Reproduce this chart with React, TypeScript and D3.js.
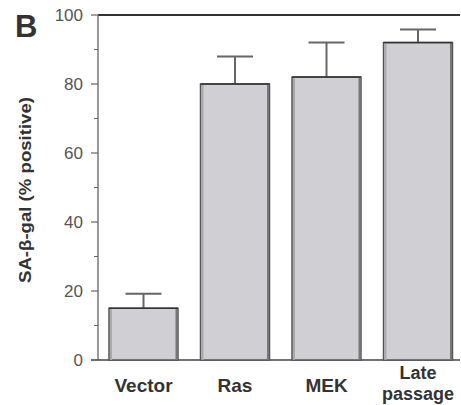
import React from "react";
import * as d3 from "d3";

const categories = ["Vector", "Ras", "MEK", "Late passage"];
const values = [15, 80, 82, 92];
const errors = [4.2, 8, 10, 3.8];
const yTicks = [0, 20, 40, 60, 80, 100];
const yMinorTicks = [10, 30, 50, 70, 90];

export default function App() {
  const W = 461, H = 405;
  const x0 = 98, yTop = 15, yBot = 360;
  const y = d3.scaleLinear().domain([0, 100]).range([yBot, yTop]);
  const x = d3.scaleBand().domain(categories).range([90.7, 470.8]).paddingInner(0.246).paddingOuter(0.2);
  const bw = x.bandwidth();
  return (
    <svg width={W} height={H} style={{ position: "absolute", left: 0, top: 0, background: "#fff" }}
      fontFamily="Liberation Sans, Arial, sans-serif">
      <text x={15} y={37} fontSize={31} fontWeight="bold" fill="#333">B</text>
      <line x1={x0} x2={460} y1={yTop} y2={yTop} stroke="#333" strokeWidth={2} />
      <line x1={x0} x2={x0} y1={yTop} y2={yBot} stroke="#777" strokeWidth={1.5} />
      <line x1={91} x2={460} y1={yBot} y2={yBot} stroke="#444" strokeWidth={1.5} />
      {yTicks.map(t => (
        <g key={t}>
          <line x1={91} x2={x0} y1={y(t)} y2={y(t)} stroke="#666" strokeWidth={1.2} />
          <text x={83} y={y(t) + 6} fontSize={17} textAnchor="end" fill="#555">{t}</text>
        </g>
      ))}
      {yMinorTicks.map(t => (
        <line key={t} x1={94} x2={x0} y1={y(t)} y2={y(t)} stroke="#666" strokeWidth={1} />
      ))}
      <text transform={`translate(31, 190) rotate(-90)`} fontSize={16} fontWeight="bold"
        textAnchor="middle" fill="#333" textLength={186} lengthAdjust="spacingAndGlyphs">SA-β-gal (% positive)</text>
      {categories.map((c, i) => {
        const left = x(c)!;
        const cx = left + bw / 2;
        const top = y(values[i]);
        const et = y(values[i] + errors[i]);
        return (
          <g key={c}>
            <line x1={cx} x2={cx} y1={top} y2={et} stroke="#666" strokeWidth={2} />
            <line x1={cx - 18} x2={cx + 18} y1={et} y2={et} stroke="#666" strokeWidth={2} />
            <rect x={left} y={top} width={bw} height={yBot - top} fill="#cfcfd4" stroke="#555" strokeWidth={1.5} />
            <line x1={left + 2} x2={left + 2} y1={top + 1} y2={yBot} stroke="#aaa" strokeWidth={2} />
            <line x1={left + bw - 1.5} x2={left + bw - 1.5} y1={top} y2={yBot} stroke="#777" strokeWidth={2} />
            <line x1={left} x2={left + bw} y1={top} y2={top} stroke="#333" strokeWidth={1.5} />
          </g>
        );
      })}
      {categories.map((c) => {
        const cx = x(c)! + bw / 2;
        if (c === "Late passage") {
          return (
            <g key={c} fontSize={18} fontWeight="bold" textAnchor="middle" fill="#333">
              <text x={cx} y={379}>Late</text>
              <text x={cx} y={400}>passage</text>
            </g>
          );
        }
        return (
          <text key={c} x={cx} y={392} fontSize={19} fontWeight="bold" textAnchor="middle" fill="#333">{c}</text>
        );
      })}
    </svg>
  );
}
